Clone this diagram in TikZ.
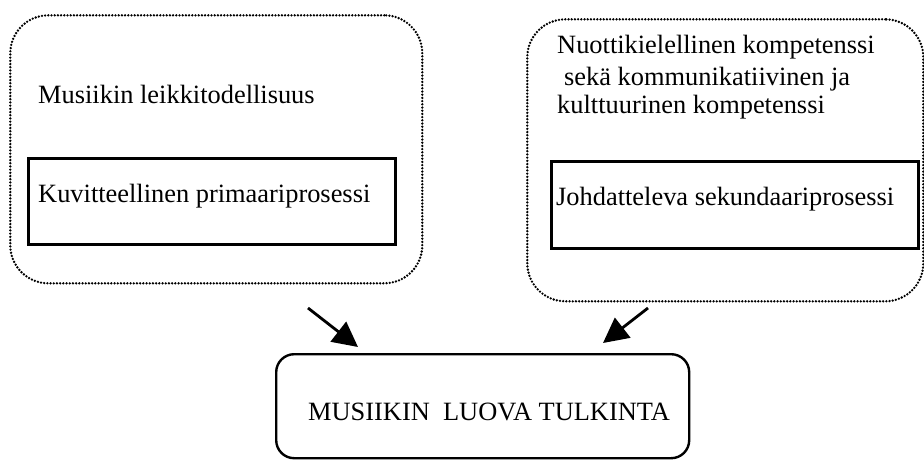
\documentclass[tikz,border=0pt]{standalone}
\usepackage{fontspec}
\setmainfont{Liberation Serif}
\usetikzlibrary{arrows.meta}
\begin{document}
\begin{tikzpicture}[x=1pt,y=-1pt,
  dotbox/.style={draw, line width=2.6pt, line cap=round, dash pattern=on 0pt off 3.2pt,
    rounded corners=38pt, anchor=north west, inner sep=0pt},
  framebox/.style={draw, line width=2.6pt, anchor=north west, inner sep=0pt},
  goalbox/.style={draw, line width=2.4pt, rounded corners=18pt, anchor=north west, inner sep=0pt},
  label/.style={anchor=base west, inner sep=0pt, font=\fontsize{26.4}{30.4}\selectfont},
  flow/.style={line width=2.8pt, -{Triangle[length=25pt,width=25pt]}}]
  \useasboundingbox (0,0) rectangle (924,459);

  % outer dotted groups
  \node[dotbox, minimum width=412pt, minimum height=268pt] (leftgroup) at (9,14) {};
  \node[dotbox, minimum width=396pt, minimum height=282pt] (rightgroup) at (526,18) {};

  % inner process frames
  \node[framebox, minimum width=367pt, minimum height=86pt] (primframe) at (27,157) {};
  \node[framebox, minimum width=367pt, minimum height=87pt] (secframe) at (550,160) {};

  % result box
  \node[goalbox, minimum width=413pt, minimum height=104pt] (result) at (275,353) {};

  % texts
  \node[label] (play) at (38,103) {Musiikin leikkitodellisuus};
  \node[label] (prim) at (38,202) {Kuvitteellinen primaariprosessi};
  \node[label] (comp1) at (557,53) {Nuottikielellinen kompetenssi};
  \node[label] (comp2) at (564,85) {sekä kommunikatiivinen ja};
  \node[label] (comp3) at (557,113) {kulttuurinen kompetenssi};
  \node[label] (sec) at (556,205) {Johdatteleva sekundaariprosessi};
  \node[label] (resulttext) at (308,420) {MUSIIKIN\ \ LUOVA TULKINTA};

  % arrows into the result box
  \coordinate (leftstart) at (308,308);
  \coordinate (leftend) at (358,347);
  \coordinate (rightstart) at (648,308);
  \coordinate (rightend) at (603,343);
  \draw[flow] (leftstart) -- (leftend);
  \draw[flow] (rightstart) -- (rightend);
\end{tikzpicture}
\end{document}
